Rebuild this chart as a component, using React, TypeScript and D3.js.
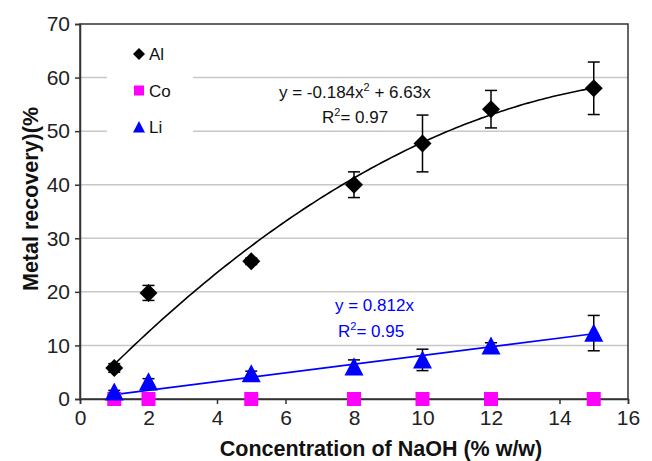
import { useEffect, useRef } from 'react';
import * as d3 from 'd3';

// NaOH concentration (% w/w)
const concentrations = [1, 2, 5, 8, 10, 12, 15];

// metal recovery (%) per metal
const alValues = [5.8, 19.8, 25.7, 40.0, 47.7, 54.1, 58.0];
const alErrors = [0.8, 1.4, 0.6, 2.4, 5.3, 3.5, 4.9];
const coValues = [0, 0, 0, 0, 0, 0, 0];
const liValues = [1.3, 3.2, 4.7, 6.0, 7.3, 9.9, 12.3];
const liErrors = [0.3, 0.6, 0.5, 1.3, 2.0, 0.6, 3.3];

// trendlines shown on the chart
const alFit = { a: -0.184, b: 6.63 };
const liFit = { slope: 0.812 };

const xTicks = [0, 2, 4, 6, 8, 10, 12, 14, 16];
const yTicks = [0, 10, 20, 30, 40, 50, 60, 70];

const W = 652;
const H = 461;
const FONT = '"Liberation Sans", Arial, sans-serif';

export default function App() {
  const svgRef = useRef<SVGSVGElement>(null);

  useEffect(() => {
    if (!svgRef.current) return;
    const svg = d3.select(svgRef.current);
    svg.selectAll('*').remove();

    const x = d3.scaleLinear().domain([0, 16]).range([80, 628]);
    const y = d3.scaleLinear().domain([0, 70]).range([399, 24]);

    svg.append('rect').attr('width', W).attr('height', H).attr('fill', '#fff');

    // grid
    svg.append('g')
      .selectAll('line')
      .data(yTicks.filter(t => t > 0 && t < 70))
      .join('line')
      .attr('x1', x(0)).attr('x2', x(16))
      .attr('y1', d => y(d)).attr('y2', d => y(d))
      .attr('stroke', '#c8c8c8')
      .attr('stroke-width', 1.5);

    // legend box hides the grid behind it
    svg.append('rect')
      .attr('x', 107).attr('y', 36).attr('width', 86).attr('height', 106)
      .attr('fill', '#fff');

    // frame
    svg.append('rect')
      .attr('x', x(0)).attr('y', y(70))
      .attr('width', x(16) - x(0)).attr('height', y(0) - y(70))
      .attr('fill', 'none')
      .attr('stroke', '#333')
      .attr('stroke-width', 1.5);

    // axes
    const xAxis = d3.axisBottom(x).tickValues(xTicks).tickSize(5).tickPadding(6);
    svg.append('g')
      .attr('transform', `translate(0,${y(0)})`)
      .call(xAxis)
      .call(g => g.select('.domain').attr('stroke', '#333').attr('stroke-width', 1.5))
      .call(g => g.selectAll('line').attr('stroke', '#333').attr('stroke-width', 1.5))
      .call(g => g.selectAll('text').attr('fill', '#222').attr('font-size', '21px').attr('font-family', FONT));

    const yAxis = d3.axisLeft(y).tickValues(yTicks).tickSize(5).tickPadding(5);
    svg.append('g')
      .attr('transform', `translate(${x(0)},0)`)
      .call(yAxis)
      .call(g => g.select('.domain').attr('stroke', '#333').attr('stroke-width', 1.5))
      .call(g => g.selectAll('line').attr('stroke', '#333').attr('stroke-width', 1.5))
      .call(g => g.selectAll('text').attr('fill', '#222').attr('font-size', '21px').attr('font-family', FONT));

    // trendlines
    const alLine = d3.line<number>()
      .x(d => x(d))
      .y(d => y(alFit.a * d * d + alFit.b * d));
    svg.append('path')
      .attr('d', alLine(d3.range(1, 15.001, 0.1)))
      .attr('fill', 'none')
      .attr('stroke', '#000')
      .attr('stroke-width', 1.6);

    const liLine = d3.line<number>()
      .x(d => x(d))
      .y(d => y(liFit.slope * d));
    svg.append('path')
      .attr('d', liLine([1, 15]))
      .attr('fill', 'none')
      .attr('stroke', '#0000ff')
      .attr('stroke-width', 1.6);

    // error bars
    const drawErrors = (vals: number[], errs: number[]) => {
      const g = svg.append('g').attr('stroke', '#000').attr('stroke-width', 1.5);
      concentrations.forEach((c, i) => {
        const cx = x(c);
        const top = y(vals[i] + errs[i]);
        const bot = y(vals[i] - errs[i]);
        g.append('line').attr('x1', cx).attr('x2', cx).attr('y1', top).attr('y2', bot);
        g.append('line').attr('x1', cx - 6).attr('x2', cx + 6).attr('y1', top).attr('y2', top);
        g.append('line').attr('x1', cx - 6).attr('x2', cx + 6).attr('y1', bot).attr('y2', bot);
      });
    };
    drawErrors(alValues, alErrors);
    drawErrors(liValues, liErrors);

    const diamond = (s: number) => `M0,${-s}L${s},0L0,${s}L${-s},0Z`;
    const triangle = (s: number) => `M0,${-s}L${s},${s * 0.9}L${-s},${s * 0.9}Z`;

    // markers
    svg.append('g').selectAll('rect')
      .data(concentrations)
      .join('rect')
      .attr('x', d => x(d) - 7).attr('y', (d, i) => y(coValues[i]) - 7)
      .attr('width', 14).attr('height', 14)
      .attr('fill', '#ff00ff');

    svg.append('g').selectAll('path')
      .data(concentrations)
      .join('path')
      .attr('d', triangle(9.5))
      .attr('transform', (d, i) => `translate(${x(d)},${y(liValues[i])})`)
      .attr('fill', '#0000ff');

    svg.append('g').selectAll('path')
      .data(concentrations)
      .join('path')
      .attr('d', diamond(9))
      .attr('transform', (d, i) => `translate(${x(d)},${y(alValues[i])})`)
      .attr('fill', '#000');

    // legend
    const legend = [
      { label: 'Al', shape: diamond(6), color: '#000' },
      { label: 'Co', shape: 'M-5,-5H5V5H-5Z', color: '#ff00ff' },
      { label: 'Li', shape: triangle(6), color: '#0000ff' },
    ];
    legend.forEach((l, i) => {
      const ly = 54 + i * 36.5;
      svg.append('path')
        .attr('d', l.shape)
        .attr('transform', `translate(139,${ly})`)
        .attr('fill', l.color);
      svg.append('text')
        .attr('x', 149).attr('y', ly + 6)
        .attr('font-family', FONT).attr('font-size', '17px')
        .attr('fill', '#111')
        .text(l.label);
    });

    // equations
    const eq = (tx: number, ty: number, color: string, parts: [string, string, string]) => {
      const t = svg.append('text')
        .attr('x', tx).attr('y', ty)
        .attr('font-family', FONT).attr('font-size', '17px')
        .attr('fill', color);
      t.append('tspan').text(parts[0]);
      t.append('tspan').attr('dy', -7).attr('font-size', '11px').text(parts[1]);
      t.append('tspan').attr('dy', 7).text(parts[2]);
    };
    eq(279, 98, '#111', ['y = -0.184x', '2', ' + 6.63x']);
    eq(322, 123, '#111', ['R', '2', '= 0.97']);
    eq(335, 311, '#0000ff', ['y = 0.812x', '', '']);
    eq(338, 337, '#0000ff', ['R', '2', '= 0.95']);

    // axis titles
    svg.append('text')
      .attr('x', 381).attr('y', 456)
      .attr('text-anchor', 'middle')
      .attr('font-family', FONT).attr('font-size', '21.5px').attr('font-weight', 'bold')
      .attr('fill', '#111')
      .text('Concentration of NaOH (% w/w)');

    svg.append('text')
      .attr('transform', `translate(38,199) rotate(-90)`)
      .attr('text-anchor', 'middle')
      .attr('font-family', FONT).attr('font-size', '21.5px').attr('font-weight', 'bold')
      .attr('fill', '#111')
      .text('Metal recovery)(%');
  }, []);

  return (
    <svg
      ref={svgRef}
      width={W}
      height={H}
      style={{ position: 'absolute', left: 0, top: 0, display: 'block' }}
    />
  );
}
